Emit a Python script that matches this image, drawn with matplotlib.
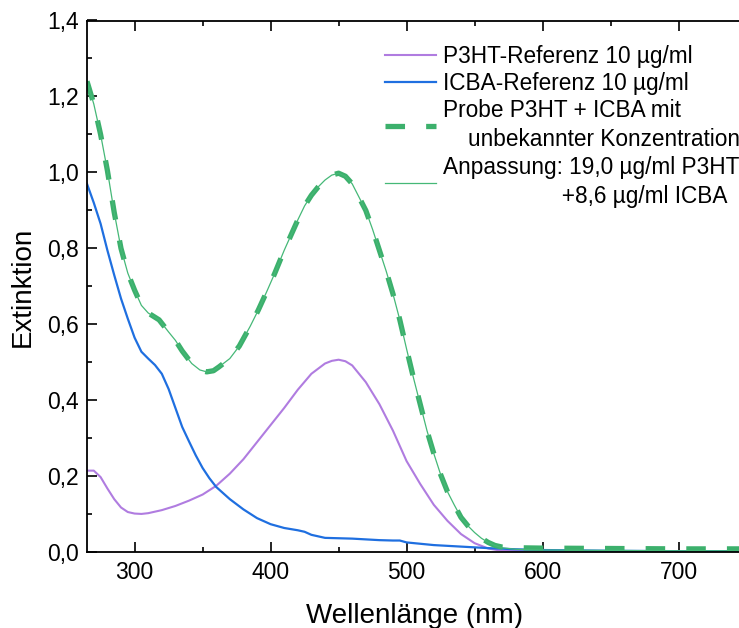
import matplotlib
matplotlib.use("Agg")
import matplotlib.pyplot as plt
from matplotlib.ticker import MultipleLocator, FuncFormatter

plt.rcParams['font.family'] = ['Liberation Sans', 'DejaVu Sans']

# ICBA reference, 10 ug/ml
icba_x = [265, 270, 275, 280, 285, 290, 295, 300, 305, 310, 315, 320, 325, 330,
          335, 340, 345, 350, 355, 360, 365, 370, 380, 390, 400, 410, 420, 425,
          430, 440, 450, 460, 470, 480, 490, 495, 500, 520, 540, 560, 580, 600,
          650, 700, 745]
icba_y = [0.97, 0.92, 0.865, 0.795, 0.73, 0.668, 0.615, 0.565, 0.528, 0.51,
          0.493, 0.47, 0.43, 0.38, 0.33, 0.292, 0.255, 0.222, 0.195, 0.172,
          0.156, 0.14, 0.113, 0.09, 0.074, 0.064, 0.058, 0.054, 0.046, 0.038,
          0.037, 0.036, 0.034, 0.032, 0.031, 0.031, 0.026, 0.019, 0.015, 0.011,
          0.008, 0.006, 0.004, 0.003, 0.003]

# P3HT reference, 10 ug/ml
p3ht_x = [265, 270, 275, 280, 285, 290, 295, 300, 305, 310, 320, 330, 340, 350,
          360, 370, 380, 390, 400, 410, 420, 430, 440, 445, 450, 455, 460, 470,
          480, 490, 500, 510, 520, 530, 540, 550, 560, 570, 600, 700, 745]
p3ht_y = [0.215, 0.215, 0.198, 0.168, 0.14, 0.118, 0.106, 0.102, 0.101, 0.103,
          0.111, 0.122, 0.136, 0.152, 0.175, 0.207, 0.245, 0.29, 0.335, 0.38,
          0.428, 0.47, 0.497, 0.504, 0.507, 0.503, 0.492, 0.448, 0.39, 0.32,
          0.24, 0.18, 0.125, 0.083, 0.048, 0.024, 0.01, 0.004, 0.002, 0.001,
          0.001]

# sample P3HT + ICBA
probe_x = [265, 270, 275, 280, 285, 290, 295, 300, 305, 310, 318, 325, 330, 335,
           342, 348, 353, 358, 362, 370, 377, 385, 391, 397, 403, 410, 415, 420,
           425, 430, 435, 440, 445, 450, 455, 460, 465, 470, 475, 480, 485, 490,
           495, 500, 505, 510, 515, 520, 525, 530, 535, 540, 545, 550, 555, 560,
           565, 570, 580, 600, 650, 700, 745]
probe_y = [1.24, 1.18, 1.10, 1.005, 0.895, 0.80, 0.735, 0.69, 0.65, 0.63, 0.612,
           0.58, 0.558, 0.53, 0.497, 0.48, 0.475, 0.478, 0.488, 0.51, 0.543,
           0.595, 0.638, 0.685, 0.734, 0.795, 0.835, 0.875, 0.912, 0.94, 0.962,
           0.98, 0.993, 0.998, 0.99, 0.97, 0.935, 0.90, 0.85, 0.795, 0.74, 0.68,
           0.612, 0.535, 0.46, 0.39, 0.32, 0.26, 0.205, 0.16, 0.125, 0.092, 0.07,
           0.052, 0.037, 0.026, 0.018, 0.014, 0.012, 0.011, 0.010, 0.009, 0.009]

# fit: 19,0 ug/ml P3HT + 8,6 ug/ml ICBA
fit_x = probe_x
fit_y = [1.24, 1.18, 1.10, 1.005, 0.895, 0.80, 0.735, 0.69, 0.65, 0.63, 0.612,
         0.58, 0.558, 0.53, 0.497, 0.48, 0.475, 0.478, 0.488, 0.51, 0.543,
         0.595, 0.638, 0.685, 0.734, 0.795, 0.835, 0.875, 0.912, 0.94, 0.962,
         0.98, 0.993, 0.998, 0.99, 0.97, 0.935, 0.90, 0.85, 0.795, 0.74, 0.68,
         0.612, 0.535, 0.46, 0.39, 0.32, 0.26, 0.205, 0.16, 0.125, 0.092, 0.07,
         0.052, 0.037, 0.026, 0.018, 0.012, 0.008, 0.006, 0.005, 0.004, 0.004]

labels = ["P3HT-Referenz 10 µg/ml",
          "ICBA-Referenz 10 µg/ml",
          "Probe P3HT + ICBA mit\n    unbekannter Konzentration",
          "Anpassung: 19,0 µg/ml P3HT,\n                   +8,6 µg/ml ICBA"]

W, H = 739, 628
fig = plt.figure(figsize=(W / 100, H / 100), dpi=100)
x0, xr = 265, 746
ax = fig.add_axes([87 / W, (H - 552.3) / H, (xr - x0) * 1.36 / W, 531.8 / H])

l1, = ax.plot(p3ht_x, p3ht_y, color='#b07ce0', lw=1.5)
l2, = ax.plot(icba_x, icba_y, color='#1f6fe0', lw=1.6)
l3, = ax.plot(probe_x, probe_y, color='#3cb06c', lw=3.8, dashes=(3.7, 4.0))
l4, = ax.plot(fit_x, fit_y, color='#45b877', lw=0.9)

ax.set_xlim(x0, xr)
ax.set_ylim(0, 1.4)
ax.xaxis.set_major_locator(MultipleLocator(100))
ax.xaxis.set_minor_locator(MultipleLocator(50))
ax.yaxis.set_major_locator(MultipleLocator(0.2))
ax.yaxis.set_minor_locator(MultipleLocator(0.1))
ax.yaxis.set_major_formatter(FuncFormatter(lambda v, p: f"{v:.1f}".replace('.', ',')))

for s in ax.spines.values():
    s.set_linewidth(1.3)
ax.tick_params(which='both', direction='in', top=True, right=False, width=1.2)
ax.tick_params(which='major', length=7, labelsize=16.5, pad=6)
ax.tick_params(which='minor', length=3.8)

ax.set_xlabel("Wellenlänge (nm)", fontsize=20, labelpad=14)
ax.set_ylabel("Extinktion", fontsize=20, labelpad=8)

leg = fig.legend([l1, l2, l3, l4], labels, loc='upper left',
                 bbox_to_anchor=(385 / W, 1 - 45 / H), frameon=False, fontsize=16.3,
                 handlelength=2.25, handletextpad=0.3, labelspacing=0.18,
                 borderpad=0, borderaxespad=0)
for t in leg.get_texts():
    t.set_linespacing(1.35)

fig.savefig("out.png", dpi=100)
